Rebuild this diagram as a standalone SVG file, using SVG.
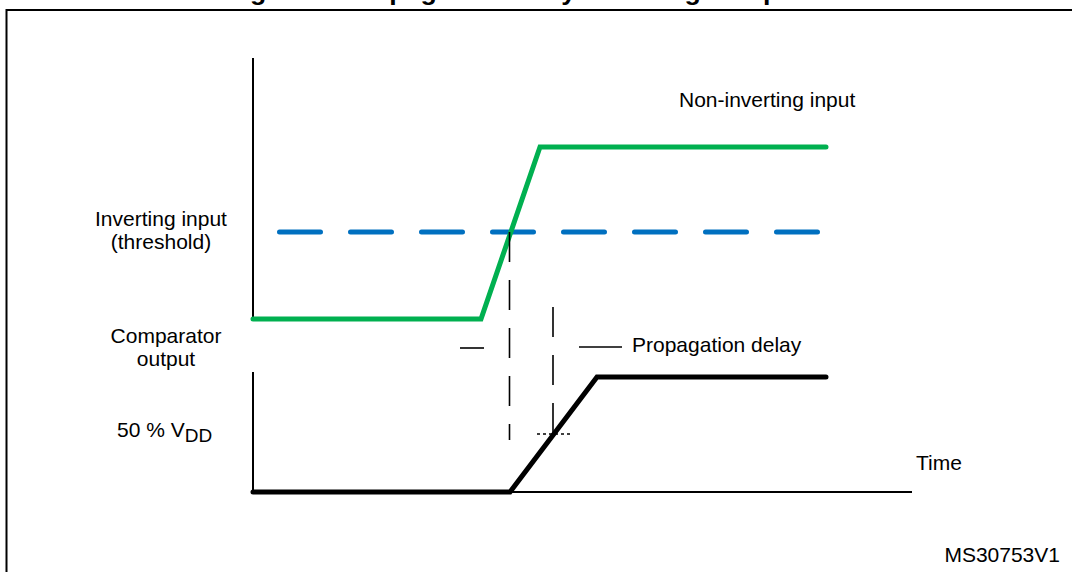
<svg xmlns="http://www.w3.org/2000/svg" width="1072" height="572" viewBox="0 0 1072 572">
<style>
text{font-family:"Liberation Sans",Arial,sans-serif;font-size:21px;fill:#000}
.title{font-weight:bold;font-size:26.7px}
.axis{stroke:#000;stroke-width:2;fill:none}
.sig{fill:none;stroke-width:5;stroke-linejoin:miter;stroke-linecap:round}
.guide{stroke:#000;stroke-width:1.6;fill:none}
</style>
<rect x="0" y="0" width="1072" height="572" fill="#fff"/>
<text class="title" x="548" y="0" text-anchor="middle">Figure 3. Propagation delay in analog comparators</text>
<rect x="6.5" y="10" width="1100" height="600" fill="none" stroke="#000" stroke-width="2"/>
<g id="axes">
<line class="axis" x1="253" y1="58" x2="253" y2="320"/>
<line class="axis" x1="253" y1="372" x2="253" y2="492"/>
<line class="axis" x1="253" y1="492" x2="912" y2="492"/>
</g>
<g id="threshold">
<line x1="279.5" y1="232" x2="826" y2="232" stroke="#0070C0" stroke-width="5" stroke-linecap="round" stroke-dasharray="41 30"/>
</g>
<g id="non-inverting">
<polyline class="sig" stroke="#00B050" points="253,319 481,319 540,147 826,147"/>
</g>
<g id="output">
<polyline class="sig" stroke="#000" points="253,492 510,492 597,377 826,377"/>
</g>
<g id="connectors">
<line class="guide" x1="509.5" y1="232" x2="509.5" y2="440" stroke-dasharray="30 18"/>
<line class="guide" x1="553" y1="307" x2="553" y2="434" stroke-dasharray="30 18"/>
<line x1="537" y1="434" x2="571" y2="434" stroke="#000" stroke-width="1.4" stroke-dasharray="3 3"/>
<line class="guide" x1="460" y1="348" x2="484" y2="348"/>
<line class="guide" x1="579" y1="347" x2="622" y2="347"/>
</g>
<g id="labels">
<text x="679" y="107">Non-inverting input</text>
<text x="161" y="226" text-anchor="middle">Inverting input</text>
<text x="161" y="249" text-anchor="middle">(threshold)</text>
<text x="166" y="343" text-anchor="middle">Comparator</text>
<text x="166" y="366" text-anchor="middle">output</text>
<text x="632" y="352">Propagation delay</text>
<text x="117" y="437">50 % V<tspan dy="5" font-size="19">DD</tspan></text>
<text x="916" y="470">Time</text>
<text x="1060" y="562" font-size="17" text-anchor="end">MS30753V1</text>
</g>
</svg>
